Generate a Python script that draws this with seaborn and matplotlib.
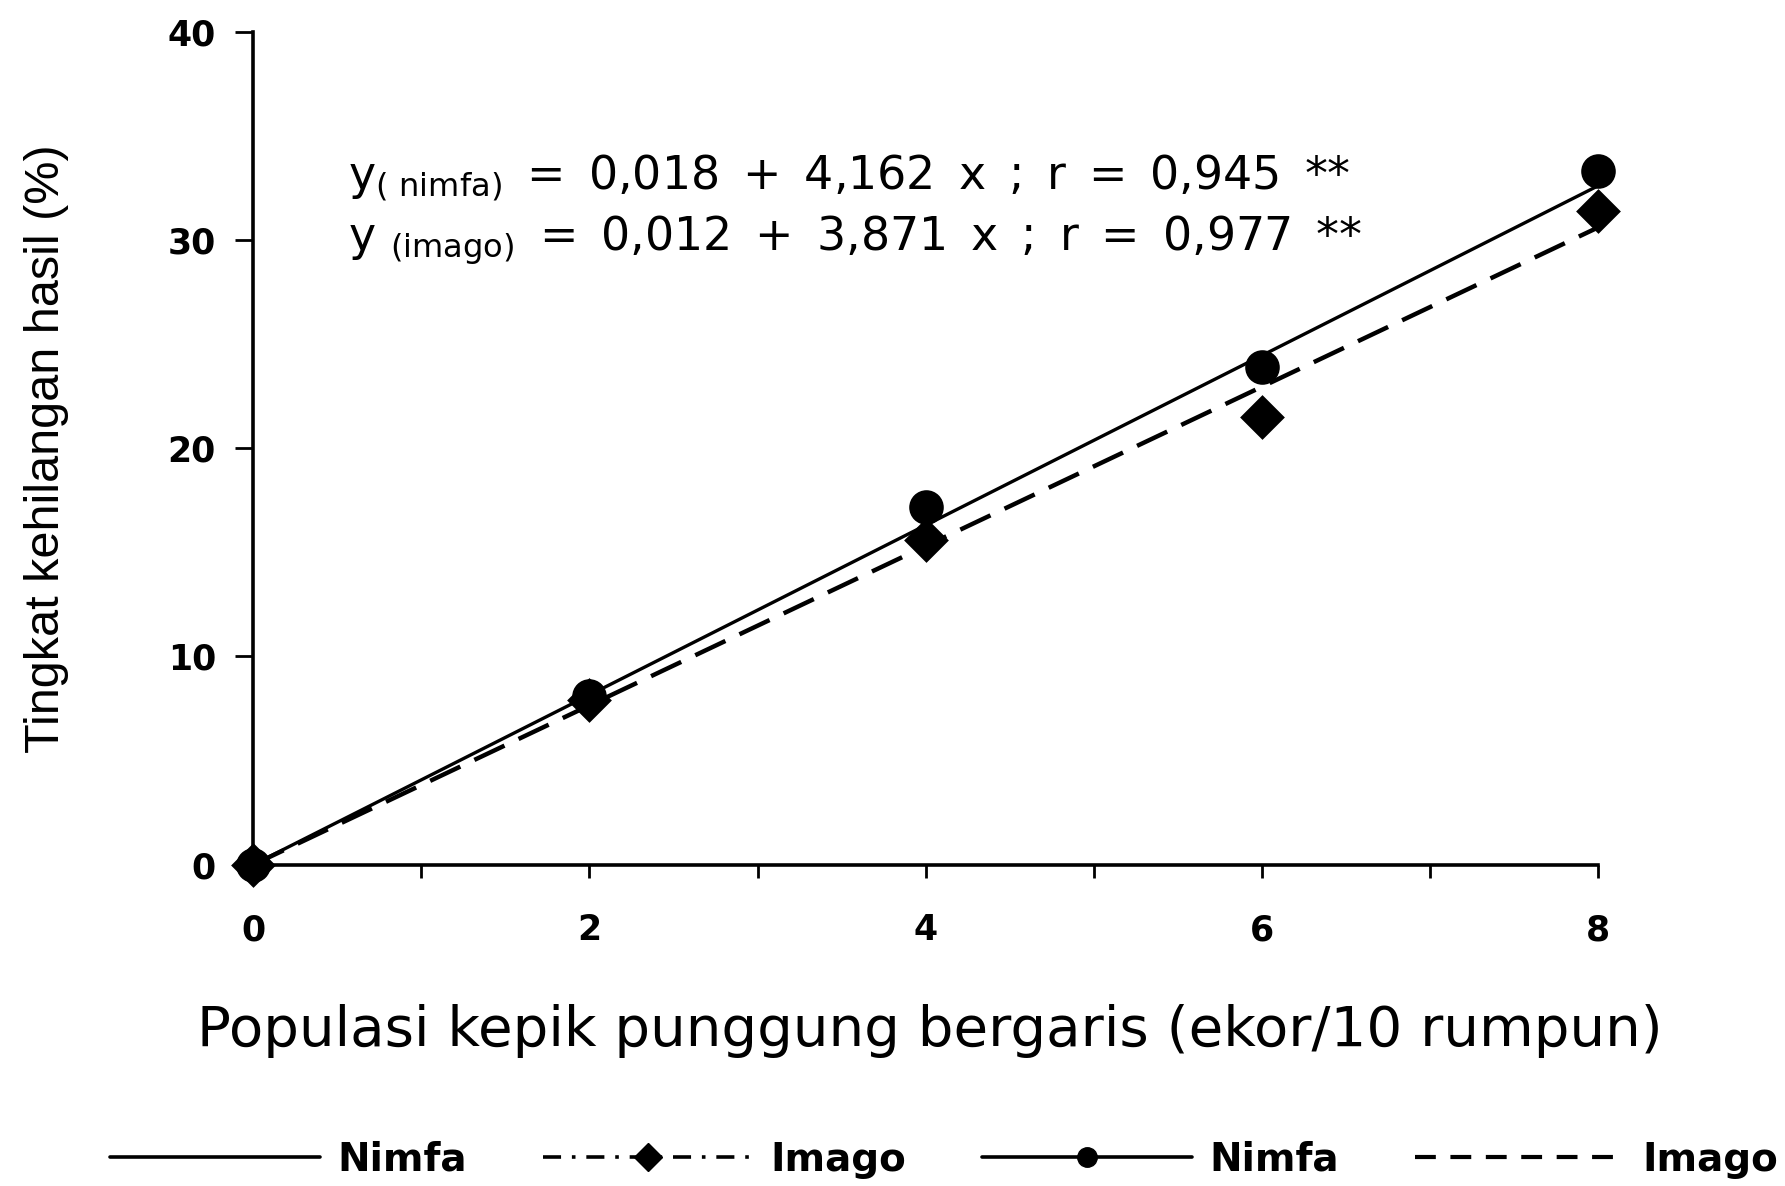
import numpy as np
import pandas as pd
import matplotlib
matplotlib.use("Agg")
import matplotlib.pyplot as plt
from matplotlib.lines import Line2D
import seaborn as sns

# ---- data ----
populasi = [0, 2, 4, 6, 8]
nimfa_obs = [0.0, 8.1, 17.2, 23.9, 33.3]
imago_obs = [0.0, 7.9, 15.6, 21.5, 31.4]
fit_x = [0, 8]
nimfa_fit = [0.0, 32.6]
imago_fit = [0.0, 30.6]
x_ticks = [0, 2, 4, 6, 8]
y_ticks = [0, 10, 20, 30, 40]
eq_nimfa = "= 0,018 + 4,162 x ; r = 0,945 **"
eq_imago = "= 0,012 + 3,871 x ; r = 0,977 **"
legend_labels = ["Nimfa", "Imago", "Nimfa", "Imago"]

sns.set_theme(style="ticks")
plt.rcParams['font.family'] = ['Liberation Sans', 'DejaVu Sans']
plt.rcParams['mathtext.default'] = 'regular'
plt.rcParams['text.color'] = 'black'

fig = plt.figure(figsize=(17.85, 11.86), dpi=100)
ax = fig.add_axes([0.142, 0.271, 0.753, 0.702])

obs = pd.DataFrame({"x": populasi, "nimfa": nimfa_obs, "imago": imago_obs})
fit = pd.DataFrame({"x": fit_x, "nimfa": nimfa_fit, "imago": imago_fit})

sns.lineplot(data=fit, x="x", y="nimfa", ax=ax, color="black", lw=2.4)
sns.lineplot(data=fit, x="x", y="imago", ax=ax, color="black", lw=3.2)
ax.lines[-1].set_dashes([7.5, 3.5])
sns.scatterplot(data=obs, x="x", y="imago", ax=ax, marker="D", s=520,
                color="black", edgecolor="black", linewidth=0, clip_on=False, zorder=5)
sns.scatterplot(data=obs, x="x", y="nimfa", ax=ax, marker="o", s=620,
                color="black", edgecolor="black", linewidth=0, clip_on=False, zorder=6)

ax.set_xlim(0, 8)
ax.set_ylim(0, 40)
ax.set_xticks(x_ticks)
ax.set_xticks(np.arange(1, 8, 2), minor=True)
ax.set_yticks(y_ticks)
for s in ["top", "right"]:
    ax.spines[s].set_visible(False)
for s in ["left", "bottom"]:
    ax.spines[s].set_linewidth(2.6)
    ax.spines[s].set_color("black")
ax.tick_params(axis="y", which="major", length=13, width=2, pad=14, labelsize=25, colors="black")
ax.tick_params(axis="x", which="both", length=9, width=2, pad=26, labelsize=25, colors="black")
for lab in ax.get_xticklabels() + ax.get_yticklabels():
    lab.set_fontweight("bold")
    lab.set_family(["DejaVu Sans"])

ax.set_xlabel("Populasi kepik punggung bergaris (ekor/10 rumpun)", fontsize=40.5, color="black",
              family=["DejaVu Sans"])
ax.xaxis.set_label_coords(0.503, -0.168)
ax.set_ylabel("Tingkat kehilangan hasil (%)", fontsize=35, color="black",
              family=["Liberation Sans"])
ax.yaxis.set_label_coords(-0.137, 0.5)

wide = lambda s: s.replace(" ", "\u2002")
ax.text(0.56, 33.0, r"y$_{(\ nimfa)}$" + wide(" " + eq_nimfa), fontsize=33, va="center", ha="left",
        color="black", family=["DejaVu Sans"])
ax.text(0.56, 30.0, r"y $_{(imago)}$" + wide(" " + eq_imago), fontsize=33, va="center", ha="left",
        color="black", family=["DejaVu Sans"])

handles = [
    Line2D([], [], color="black", lw=2.6, ls="-"),
    Line2D([], [], color="black", lw=2.6, ls=(0, (5, 3, 1, 3)), marker="D", ms=14),
    Line2D([], [], color="black", lw=2.6, ls="-", marker="o", ms=14),
    Line2D([], [], color="black", lw=3, ls=(0, (5, 3.5))),
]
fig.legend(handles, legend_labels, loc="center", bbox_to_anchor=(0.529, 0.022), ncol=4,
           frameon=False, handlelength=5.4, handletextpad=0.45, columnspacing=1.95,
           labelcolor="black",
           prop={"family": ["DejaVu Sans"], "size": 28, "weight": "bold"})

fig.savefig("out.png", dpi=100)
